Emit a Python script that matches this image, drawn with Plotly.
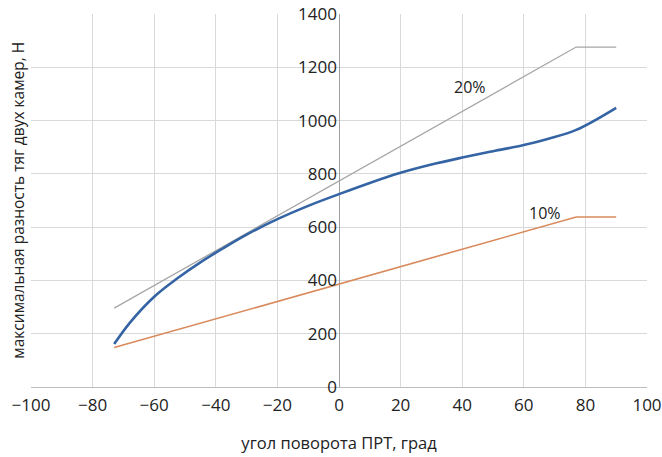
import plotly.graph_objects as go

# angle of rotation, degrees
blue_x = [-73, -68, -60, -52, -45, -38, -30, -20, -10, 0, 10, 20, 30, 40, 50, 60, 68, 77, 90]
blue_y = [161, 240, 339, 412, 468, 518, 572, 630, 680, 724, 766, 804, 835, 861, 885, 908, 932, 965, 1048]

lim_x = [-73, 77, 90]
lim20_y = [296, 1276, 1276]
lim10_y = [148, 638, 638]

x_ticks = [-100, -80, -60, -40, -20, 0, 20, 40, 60, 80, 100]
y_ticks = [0, 200, 400, 600, 800, 1000, 1200, 1400]

FONT = "Open Sans"

fig = go.Figure()
fig.add_trace(go.Scatter(x=lim_x, y=lim20_y, mode="lines",
                         line=dict(color="#a6a6a6", width=1.3), name="20%"))
fig.add_trace(go.Scatter(x=lim_x, y=lim10_y, mode="lines",
                         line=dict(color="#d98a5c", width=1.6), name="10%"))
fig.add_trace(go.Scatter(x=blue_x, y=blue_y, mode="lines", line_shape="spline",
                         line=dict(color="#3464a4", width=2.6), name="max"))

fig.add_annotation(x=42.5, y=1126, text="20%", showarrow=False,
                   font=dict(family=FONT, size=16, color="#222222"))
fig.add_annotation(x=67, y=653, text="10%", showarrow=False,
                   font=dict(family=FONT, size=16, color="#222222"))
fig.add_annotation(xref="paper", yref="paper", x=-0.0225, y=0.5, xanchor="center", yanchor="middle",
                   text="максимальная разность тяг двух камер, Н", textangle=-90,
                   showarrow=False, font=dict(family=FONT, size=15.5, color="#222222"))

fig.update_layout(
    width=662, height=457,
    margin=dict(l=31, r=15, t=14, b=70, autoexpand=False),
    paper_bgcolor="white", plot_bgcolor="white",
    showlegend=False,
    font=dict(family=FONT, size=16, color="#222222"),
    xaxis=dict(range=[-100, 100], tickvals=x_ticks, showgrid=True, gridcolor="#d9d9d9",
               gridwidth=1, zeroline=True, zerolinecolor="#a0a0a0", zerolinewidth=1.3,
               ticks="", showline=False, automargin=False, ticklabelstandoff=6,
               ticklabeloverflow="allow",
               tickfont=dict(family=FONT, size=17, color="#222222"),
               title=dict(text="угол поворота ПРТ, град", standoff=22,
                          font=dict(family=FONT, size=16.5, color="#222222"))),
    yaxis=dict(range=[0, 1400], tickvals=y_ticks, showgrid=True, gridcolor="#d9d9d9",
               gridwidth=1, zeroline=True, zerolinecolor="#bdbdbd", zerolinewidth=1.3,
               ticks="", showline=False, anchor="free", position=0.5, automargin=False,
               ticklabelstandoff=2, ticklabeloverflow="allow",
               tickfont=dict(family=FONT, size=17, color="#222222")),
)

fig.write_html("out.html", config={"displayModeBar": False},
               post_script="document.body.style.margin='0';document.body.style.overflow='hidden';")
